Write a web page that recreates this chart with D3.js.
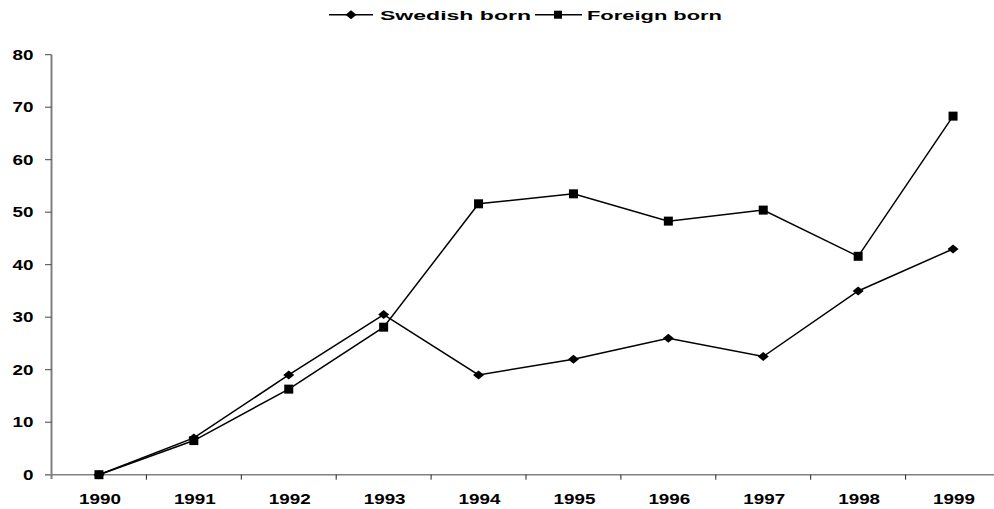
<!DOCTYPE html>
<html>
<head>
<meta charset="utf-8">
<script src="https://cdn.jsdelivr.net/npm/d3@7"></script>
<style>
  body { margin: 0; background: #fff; }
  text { font-family: "Liberation Sans", Arial, sans-serif; font-weight: bold; fill: #000; }
</style>
</head>
<body>
<div id="chart"></div>
<script>
const years = ["1990", "1991", "1992", "1993", "1994", "1995", "1996", "1997", "1998", "1999"];
const swedishBorn = [0, 7, 19, 30.5, 19, 22, 26, 22.5, 35, 43];
const foreignBorn = [0, 6.5, 16.3, 28.1, 51.6, 53.5, 48.3, 50.4, 41.6, 68.3];
const yTicks = [0, 10, 20, 30, 40, 50, 60, 70, 80];

const svgWidth = 994, svgHeight = 509;

const svg = d3.select("#chart").append("svg")
  .attr("width", svgWidth)
  .attr("height", svgHeight);

// band scale for categories, linear for values
const x = d3.scaleBand().domain(years).range([51.5, 1000.5]);
const y = d3.scaleLinear().domain([0, 80]).range([474.7, 54.7]);
const cx = d => x(d) + x.bandwidth() / 2;

// y axis
svg.append("line")
  .attr("x1", 51.5).attr("x2", 51.5)
  .attr("y1", y(80)).attr("y2", 479)
  .attr("stroke", "#808080").attr("stroke-width", 2);

svg.selectAll(".ytick").data(yTicks).enter().append("line")
  .attr("x1", 45).attr("x2", 51.5)
  .attr("y1", d => y(d)).attr("y2", d => y(d))
  .attr("stroke", "#444").attr("stroke-width", 1);

svg.selectAll(".ylab").data(yTicks).enter().append("text")
  .attr("transform", d => "translate(33.5," + (y(d) + 5) + ") scale(1.3,1)")
  .attr("text-anchor", "end")
  .style("font-size", "14.5px")
  .text(d => d);

// x axis
svg.append("line")
  .attr("x1", 45).attr("x2", svgWidth)
  .attr("y1", y(0)).attr("y2", y(0))
  .attr("stroke", "#808080").attr("stroke-width", 1.5);

svg.selectAll(".xtick").data(years.slice(1)).enter().append("line")
  .attr("x1", d => x(d)).attr("x2", d => x(d))
  .attr("y1", y(0)).attr("y2", y(0) + 5)
  .attr("stroke", "#222").attr("stroke-width", 1);

svg.selectAll(".xlab").data(years).enter().append("text")
  .attr("transform", d => "translate(" + (cx(d) + 1) + ",504) scale(1.3,1)")
  .attr("text-anchor", "middle")
  .style("font-size", "14.5px")
  .text(d => d);

// lines
const line = d3.line()
  .x((d, i) => cx(years[i]))
  .y(d => y(d));

svg.append("path").datum(swedishBorn)
  .attr("fill", "none").attr("stroke", "#000").attr("stroke-width", 1.5)
  .attr("d", line);

svg.append("path").datum(foreignBorn)
  .attr("fill", "none").attr("stroke", "#000").attr("stroke-width", 1.5)
  .attr("d", line);

const diamond = "M0,-4.5L5.5,0L0,4.5L-5.5,0Z";

svg.selectAll(".sw").data(swedishBorn).enter().append("path")
  .attr("d", diamond)
  .attr("transform", (d, i) => "translate(" + cx(years[i]) + "," + y(d) + ")")
  .attr("fill", "#000");

svg.selectAll(".fb").data(foreignBorn).enter().append("rect")
  .attr("x", (d, i) => cx(years[i]) - 4.5)
  .attr("y", d => y(d) - 4.5)
  .attr("width", 9).attr("height", 9)
  .attr("fill", "#000");

// legend
const legend = svg.append("g");
legend.append("line").attr("x1", 329).attr("x2", 373).attr("y1", 14.7).attr("y2", 14.7)
  .attr("stroke", "#000").attr("stroke-width", 1.5);
legend.append("path").attr("d", diamond).attr("transform", "translate(351,14.7)").attr("fill", "#000");
legend.append("text").attr("x", 380).attr("y", 19.5)
  .attr("textLength", 151).attr("lengthAdjust", "spacingAndGlyphs")
  .style("font-size", "13px").text("Swedish born");

legend.append("line").attr("x1", 535).attr("x2", 582).attr("y1", 14.7).attr("y2", 14.7)
  .attr("stroke", "#000").attr("stroke-width", 1.5);
legend.append("rect").attr("x", 554).attr("y", 10.7).attr("width", 8).attr("height", 8).attr("fill", "#000");
legend.append("text").attr("x", 587).attr("y", 19.5)
  .attr("textLength", 135).attr("lengthAdjust", "spacingAndGlyphs")
  .style("font-size", "13px").text("Foreign born");
</script>
</body>
</html>
